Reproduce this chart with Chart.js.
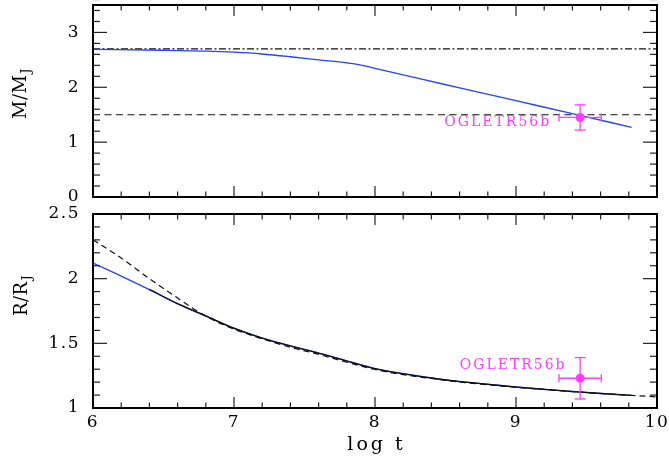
<!DOCTYPE html>
<html><head><meta charset="utf-8">
<script src="https://cdn.jsdelivr.net/npm/chart.js@4"></script>
<style>
html,body{margin:0;padding:0;background:#fff;}
#wrap{position:relative;width:669px;height:459px;background:#fff;}
canvas{position:absolute;left:0;top:0;}
</style></head><body>
<div id="wrap"><canvas id="c1" width="669" height="459"></canvas><canvas id="c2" width="669" height="459"></canvas></div>
<script>
// ---- data ----
const logTMass = [6.0, 6.5, 6.8, 7.0, 7.2, 7.4, 7.6, 7.8, 7.9, 8.0, 8.3, 8.6, 9.0, 9.4, 9.82];
const massModel = [2.69, 2.675, 2.66, 2.64, 2.607, 2.557, 2.50, 2.445, 2.405, 2.345, 2.165, 1.99, 1.755, 1.52, 1.27];
const massInitialLevel = 2.7;
const massObservedLevel = 1.5;
const levelSpan = [6, 10];

const logTRadius = [6.0, 6.2, 6.4, 6.6, 6.8, 7.0, 7.2, 7.4, 7.6, 7.8, 8.0, 8.2, 8.4, 8.6, 8.8, 9.0, 9.2, 9.4, 9.6, 9.82];
const radiusModelBlue = [2.12, 2.02, 1.915, 1.805, 1.71, 1.615, 1.54, 1.48, 1.425, 1.365, 1.305, 1.265, 1.233, 1.205, 1.184, 1.163, 1.145, 1.128, 1.113, 1.098];
const logTRadiusBlack = [6.4, 6.6, 6.8, 7.0, 7.2, 7.4, 7.6, 7.8, 8.0, 8.2, 8.4, 8.6, 8.8, 9.0, 9.2, 9.4, 9.6, 9.82];
const radiusModelBlack = [1.917, 1.807, 1.712, 1.617, 1.541, 1.48, 1.424, 1.363, 1.304, 1.264, 1.232, 1.204, 1.183, 1.162, 1.144, 1.127, 1.112, 1.097];
const logTRadiusDashed = [6.0, 6.2, 6.4, 6.6, 6.8, 7.0, 7.2, 7.4, 7.6, 7.8, 8.0, 8.2, 8.4, 8.6, 8.8, 9.0, 9.2, 9.4, 9.6, 9.8, 10.0];
const radiusModelDashed = [2.30, 2.16, 2.00, 1.85, 1.71, 1.61, 1.535, 1.47, 1.415, 1.354, 1.298, 1.258, 1.228, 1.201, 1.180, 1.160, 1.143, 1.127, 1.112, 1.099, 1.086];

const planetName = 'OGLETR56b';
const planetLogT = 9.455, planetLogTErr = 0.15;
const planetMass = 1.45, planetMassErr = 0.23;
const planetRadius = 1.23, planetRadiusErr = 0.16;

const xTickValues = [6, 7, 8, 9, 10];
const massTickValues = [0, 1, 2, 3];
const radiusTickValues = [1, 1.5, 2, 2.5];
const xLabel = 'log t';
const massLabel = ['M/M', 'J'];
const radiusLabel = ['R/R', 'J'];

// ---- styles ----
const BLUE = '#2442ff';
const MAG = '#ff3cff';
const FONT = '"DejaVu Serif"';
const pts = (xs, ys) => xs.map((x, i) => ({x, y: ys[i]}));

function line(ctx, x1, y1, x2, y2) { ctx.beginPath(); ctx.moveTo(x1, y1); ctx.lineTo(x2, y2); ctx.stroke(); }

const deco = {
  id: 'deco',
  beforeDraw(chart) { chart.ctx.letterSpacing = '1.5px'; },
  afterDraw(chart, args, o) {
    const ctx = chart.ctx, a = chart.chartArea, x = chart.scales.x, y = chart.scales.y;
    ctx.save();
    ctx.letterSpacing = '0px';
    // ticks
    ctx.strokeStyle = '#222'; ctx.lineWidth = 1.2;
    const nx = Math.round((x.max - x.min) / o.xMinor);
    for (let i = 0; i <= nx; i++) {
      const v = x.min + i * o.xMinor;
      const major = Math.abs(v - Math.round(v)) < 1e-6;
      const L = major ? 11 : 5.5, px = x.getPixelForValue(v);
      line(ctx, px, a.bottom, px, a.bottom - L);
      line(ctx, px, a.top, px, a.top + L);
    }
    const ny = Math.round((y.max - y.min) / o.yMinor);
    for (let i = 0; i <= ny; i++) {
      const v = y.min + i * o.yMinor;
      const r = v / o.yMajor;
      const major = Math.abs(r - Math.round(r)) < 1e-6;
      const L = major ? 14 : 7, py = y.getPixelForValue(v);
      line(ctx, a.left, py, a.left + L, py);
      line(ctx, a.right, py, a.right - L, py);
    }
    // frame
    ctx.strokeStyle = '#000'; ctx.lineWidth = 2;
    ctx.strokeRect(a.left, a.top, a.right - a.left, a.bottom - a.top);
    // error bars
    const p = o.point;
    const cx = x.getPixelForValue(p.x), cy = y.getPixelForValue(p.y);
    const x1 = x.getPixelForValue(p.x - p.xe), x2 = x.getPixelForValue(p.x + p.xe);
    const y1 = y.getPixelForValue(p.y - p.ye), y2 = y.getPixelForValue(p.y + p.ye);
    ctx.strokeStyle = MAG; ctx.lineWidth = 1.3;
    line(ctx, x1, cy, x2, cy);
    line(ctx, cx, y1, cx, y2);
    line(ctx, x1, cy - 4, x1, cy + 4);
    line(ctx, x2, cy - 4, x2, cy + 4);
    line(ctx, cx - 5.5, y1, cx + 5.5, y1);
    line(ctx, cx - 5.5, y2, cx + 5.5, y2);
    // planet label
    ctx.fillStyle = MAG; ctx.font = '14px ' + FONT; ctx.letterSpacing = '2px';
    ctx.textAlign = 'right'; ctx.textBaseline = 'middle';
    ctx.fillText(planetName, cx + o.labelDx, cy + o.labelDy);
    // y title with subscript
    ctx.letterSpacing = '0.5px';
    ctx.fillStyle = '#000';
    ctx.save();
    ctx.translate(o.titleX, o.titleY);
    ctx.rotate(-Math.PI / 2);
    ctx.textAlign = 'left'; ctx.textBaseline = 'alphabetic';
    ctx.font = '18px ' + FONT;
    ctx.fillText(o.title[0], 0, 0);
    const w = ctx.measureText(o.title[0]).width;
    ctx.font = '12px ' + FONT;
    ctx.fillText(o.title[1], w + 1, 4);
    ctx.restore();
    // x title
    if (o.xTitle) {
      ctx.font = '19px ' + FONT; ctx.letterSpacing = '3px';
      ctx.textAlign = 'center'; ctx.textBaseline = 'alphabetic';
      ctx.fillText(o.xTitle, x.getPixelForValue((x.min + x.max) / 2) + 1.5, 450);
    }
    ctx.restore();
  }
};

const tickFont = {family: 'DejaVu Serif', size: 17};

function baseOptions(yMin, yMax, yTicks, padding, showX) {
  return {
    responsive: false, animation: false, devicePixelRatio: 1,
    layout: {padding},
    plugins: {legend: {display: false}, tooltip: {enabled: false}},
    scales: {
      x: {
        type: 'linear', min: 6, max: 10, display: showX,
        grid: {display: false, drawTicks: false}, border: {display: false},
        afterBuildTicks: s => { s.ticks = xTickValues.map(v => ({value: v})); },
        afterFit: s => { s.height = showX ? 51 : 0; s.paddingLeft = 0; s.paddingRight = 0; },
        ticks: {font: tickFont, color: '#000', padding: 4, autoSkip: false, maxRotation: 0, callback: v => String(v)}
      },
      y: {
        type: 'linear', min: yMin, max: yMax,
        grid: {display: false, drawTicks: false}, border: {display: false},
        afterBuildTicks: s => { s.ticks = yTicks.map(v => ({value: v})); },
        afterFit: s => { s.width = 93; s.paddingTop = 0; s.paddingBottom = 0; },
        ticks: {font: tickFont, color: '#000', padding: 13, autoSkip: false, callback: v => String(v)}
      }
    }
  };
}

const opt1 = baseOptions(0, 3.5, massTickValues, {left: 0, right: 12, top: 5, bottom: 262}, false);
opt1.plugins.deco = {
  xMinor: 0.2, yMinor: 0.2, yMajor: 1,
  point: {x: planetLogT, xe: planetLogTErr, y: planetMass, ye: planetMassErr},
  labelDx: -29, labelDy: 4.5,
  title: massLabel, titleX: 26, titleY: 119
};
new Chart(document.getElementById('c1'), {
  type: 'scatter',
  data: {datasets: [
    {data: [{x: planetLogT, y: planetMass}], pointRadius: 4.5, pointBackgroundColor: MAG, pointBorderWidth: 0, order: 0},
    {data: pts(logTMass, massModel), showLine: true, borderColor: BLUE, borderWidth: 1.3, pointRadius: 0, cubicInterpolationMode: 'monotone', order: 1},
    {data: pts(levelSpan, [massObservedLevel, massObservedLevel]), showLine: true, borderColor: '#111', borderWidth: 1.1, borderDash: [7, 4.5], pointRadius: 0, order: 2},
    {data: pts(levelSpan, [massInitialLevel, massInitialLevel]), showLine: true, borderColor: '#111', borderWidth: 1.1, borderDash: [7, 2.5, 2, 2.5], pointRadius: 0, order: 3}
  ]},
  options: opt1,
  plugins: [deco]
});

const opt2 = baseOptions(1, 2.5, radiusTickValues, {left: 0, right: 12, top: 214, bottom: 0}, true);
opt2.plugins.deco = {
  xMinor: 0.2, yMinor: 0.1, yMajor: 0.5,
  point: {x: planetLogT, xe: planetLogTErr, y: planetRadius, ye: planetRadiusErr},
  labelDx: -13.6, labelDy: -12.7,
  title: radiusLabel, titleX: 27, titleY: 316,
  xTitle: xLabel
};
new Chart(document.getElementById('c2'), {
  type: 'scatter',
  data: {datasets: [
    {data: [{x: planetLogT, y: planetRadius}], pointRadius: 4.5, pointBackgroundColor: MAG, pointBorderWidth: 0, order: 0},
    {data: pts(logTRadiusDashed, radiusModelDashed), showLine: true, borderColor: '#111', borderWidth: 1.2, borderDash: [6, 4], pointRadius: 0, cubicInterpolationMode: 'monotone', order: 1},
    {data: pts(logTRadiusBlack, radiusModelBlack), showLine: true, borderColor: '#111', borderWidth: 1.3, pointRadius: 0, cubicInterpolationMode: 'monotone', order: 2},
    {data: pts(logTRadius, radiusModelBlue), showLine: true, borderColor: BLUE, borderWidth: 1.3, pointRadius: 0, cubicInterpolationMode: 'monotone', order: 3}
  ]},
  options: opt2,
  plugins: [deco]
});
</script>
</body></html>
